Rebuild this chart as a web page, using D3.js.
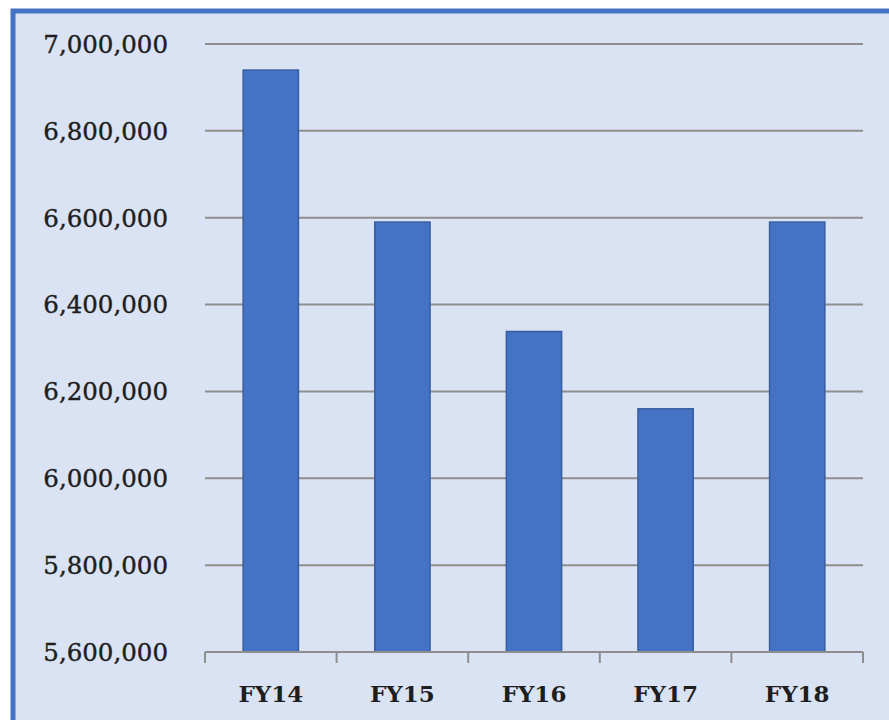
<!DOCTYPE html>
<html><head><meta charset="utf-8">
<script src="https://cdn.jsdelivr.net/npm/d3@7"></script>
<style>html,body{margin:0;padding:0;background:#fff;}svg{display:block;}</style>
</head><body>
<script>
const categories = ["FY14","FY15","FY16","FY17","FY18"];
const values = [6940000, 6590000, 6338000, 6160000, 6590000];
const yTicks = [5600000,5800000,6000000,6200000,6400000,6600000,6800000,7000000];

(function(){
const W = 889, H = 720;
const svg = d3.select("body").append("svg").attr("width", W).attr("height", H);
svg.append("rect").attr("x", 13).attr("y", 11).attr("width", W + 20).attr("height", H + 20)
  .attr("fill", "#dae3f3").attr("stroke", "#4472c4").attr("stroke-width", 5);

const pL = 205, pR = 863, pT = 44, pB = 652;
const x = d3.scaleBand().domain(categories).range([pL, pR]).paddingInner(0.58).paddingOuter(0.29);
const y = d3.scaleLinear().domain([5600000, 7000000]).range([pB, pT]);

const fmt = d3.format(",");
svg.append("g").selectAll("line").data(yTicks.slice(1)).join("line")
  .attr("x1", pL).attr("x2", pR)
  .attr("y1", d => y(d)).attr("y2", d => y(d))
  .attr("stroke", "#8e8e8e").attr("stroke-width", 2);

svg.append("g").selectAll("text").data(yTicks).join("text")
  .attr("x", 168).attr("y", d => y(d)).attr("dy", "0.36em")
  .attr("text-anchor", "end")
  .attr("font-family", "DejaVu Serif").attr("font-size", 24.5).attr("fill", "#1e1e1e")
  .attr("stroke", "#1e1e1e").attr("stroke-width", 0.4)
  .text(d => fmt(d));

svg.append("g").selectAll("rect").data(values).join("rect")
  .attr("x", (d, i) => x(categories[i])).attr("width", x.bandwidth())
  .attr("y", d => y(d)).attr("height", d => y(5600000) - y(d))
  .attr("fill", "#4472c4").attr("stroke", "#375e9f").attr("stroke-width", 1.5);

const xa = svg.append("g").attr("transform", `translate(0,${pB})`)
  .call(d3.axisBottom(x).tickSize(0).tickPadding(0));
xa.select(".domain").remove();
svg.append("line").attr("x1", pL).attr("x2", pR).attr("y1", pB).attr("y2", pB)
  .attr("stroke", "#8e8e8e").attr("stroke-width", 2);
const bounds = categories.map(c => x(c) - x.step() * x.paddingInner() / 2);
bounds.push(pR);
svg.append("g").selectAll("line").data(bounds).join("line")
  .attr("x1", d => d).attr("x2", d => d).attr("y1", pB).attr("y2", pB + 11)
  .attr("stroke", "#8e8e8e").attr("stroke-width", 2);
xa.selectAll("text").attr("y", 50).attr("dy", "0")
  .attr("font-family", "DejaVu Serif").attr("font-weight", "bold").attr("font-size", 23).attr("fill", "#1e1e1e");
})();
</script>
</body></html>
